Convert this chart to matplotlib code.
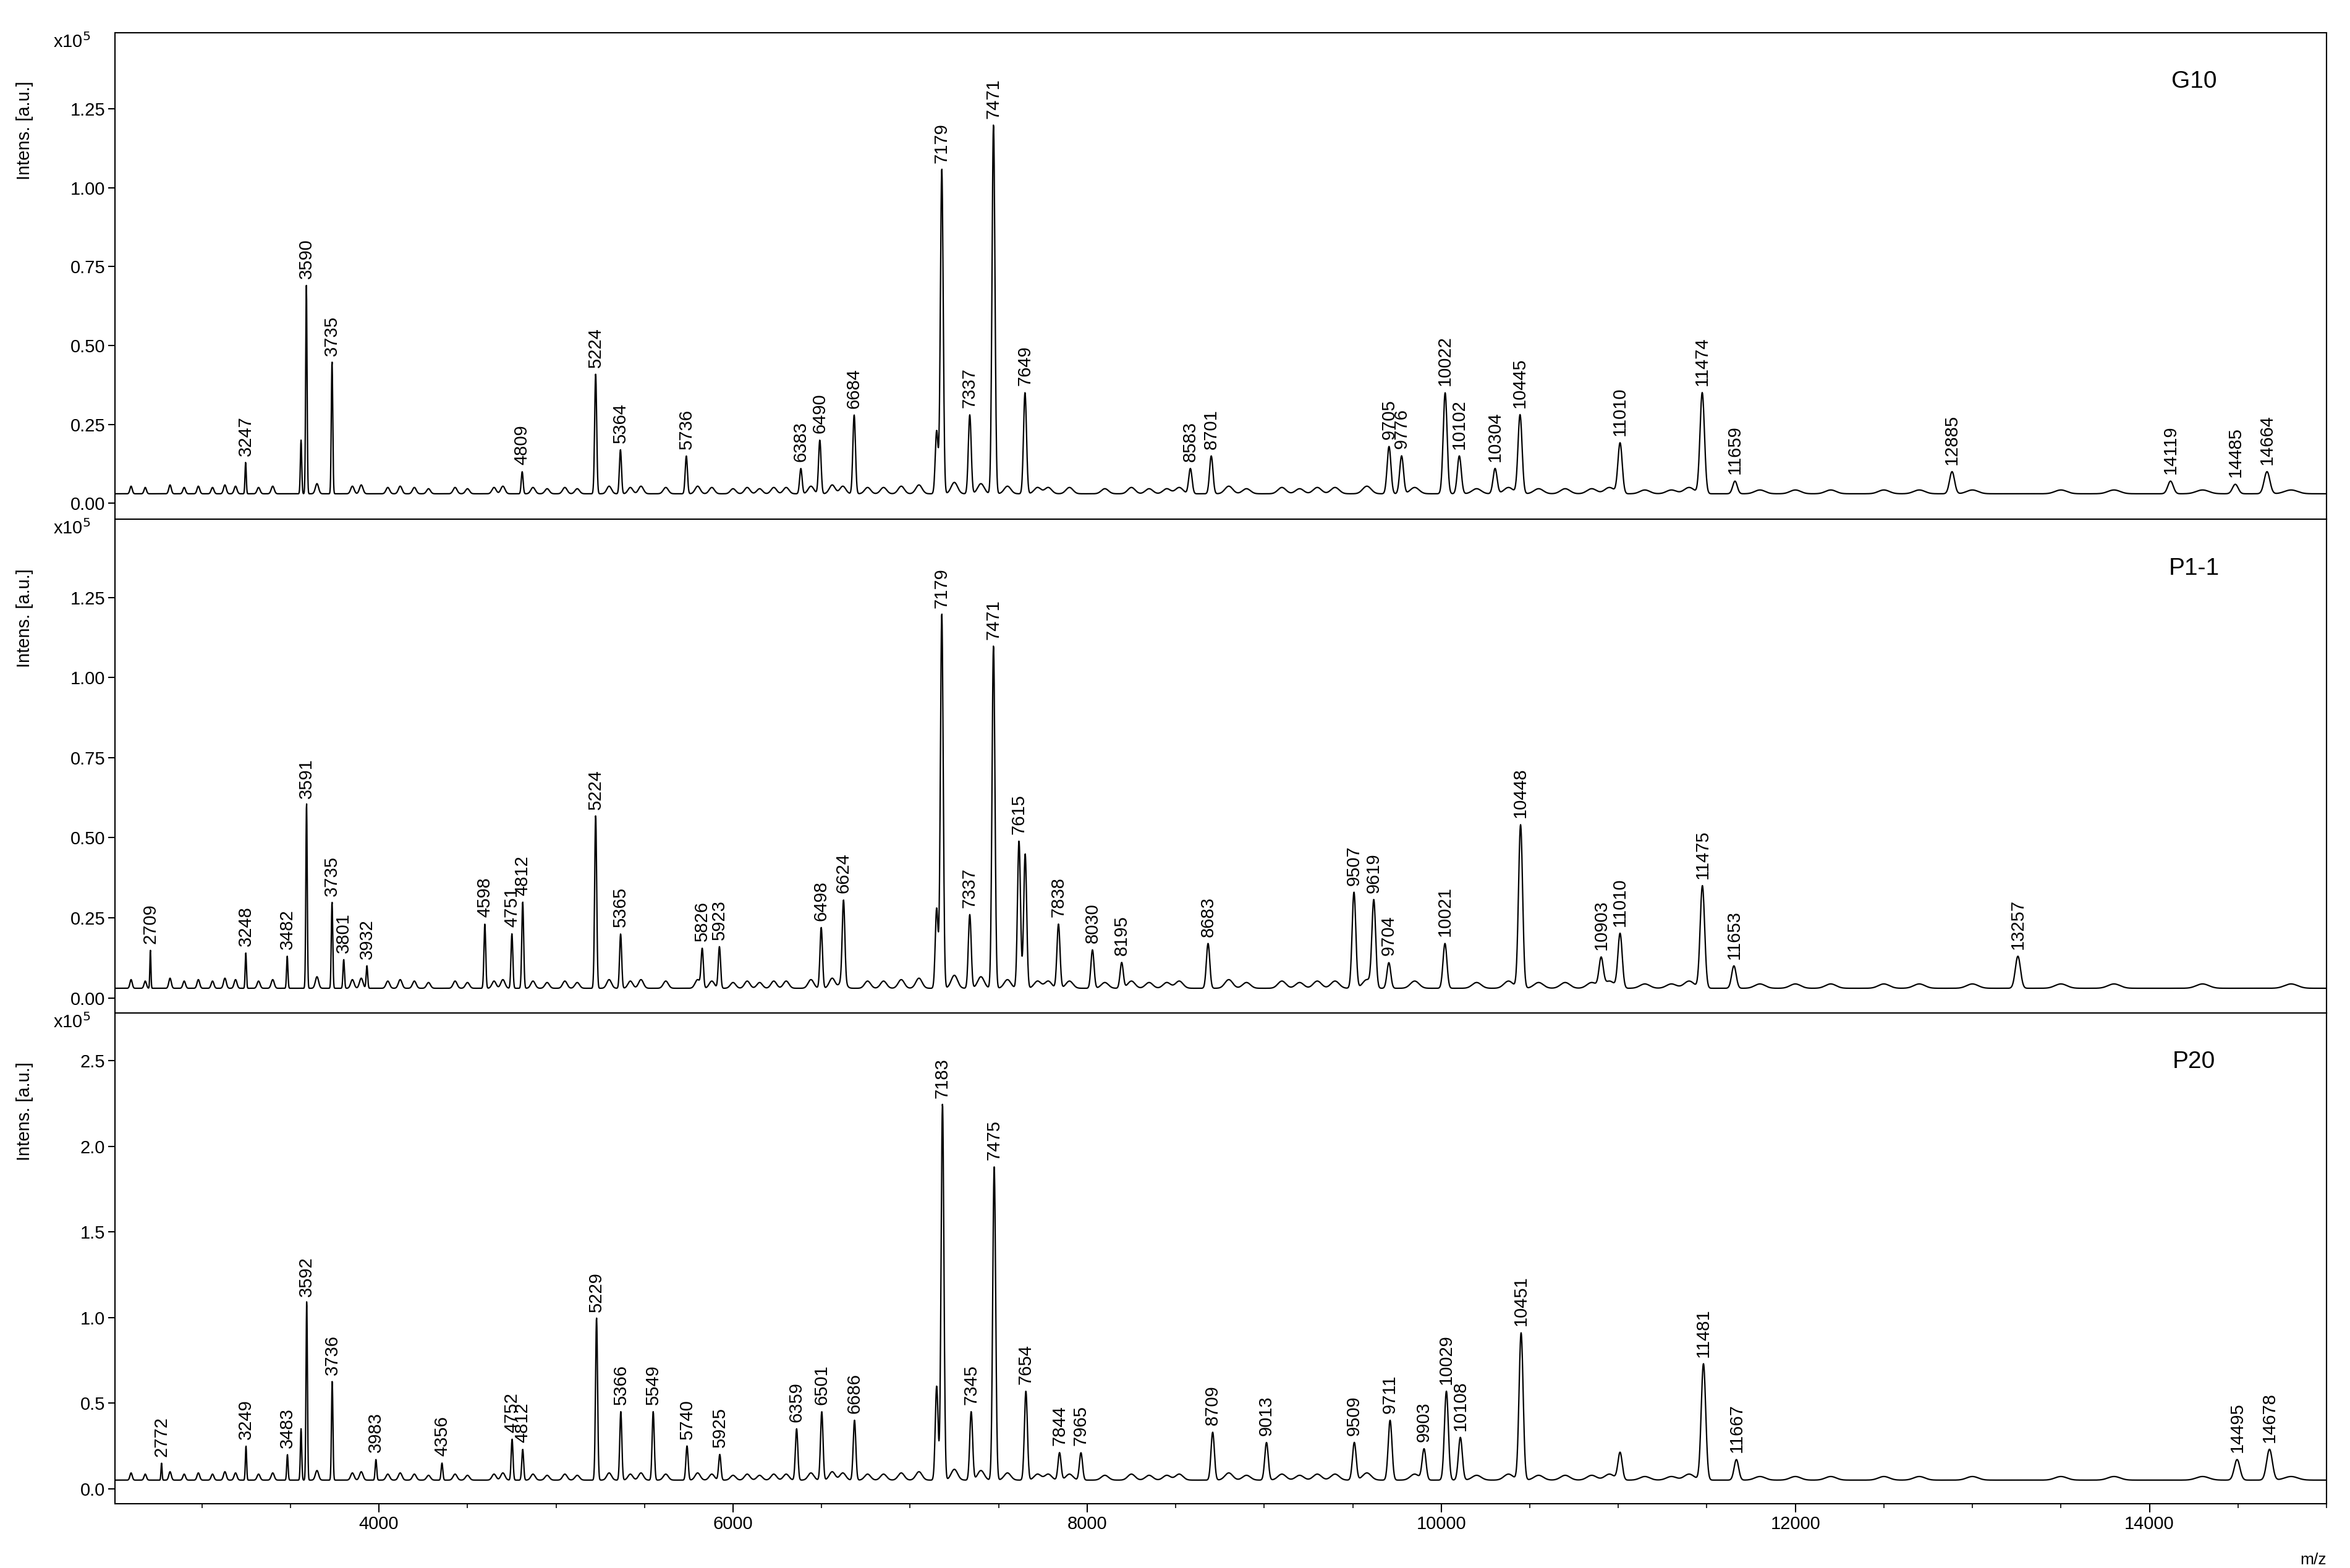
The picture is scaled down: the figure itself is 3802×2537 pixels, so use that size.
import numpy as np
import matplotlib
matplotlib.use("Agg")
import matplotlib.pyplot as plt
from matplotlib.ticker import FormatStrFormatter, MultipleLocator

plt.rcParams['font.family'] = ['Liberation Sans', 'DejaVu Sans']

# ---- data (intensities in units of 1e5 a.u.) ----
g10_mz = [3247, 3560, 3590, 3735, 4809, 5224, 5364, 5736, 6383, 6490, 6684, 7150, 7179, 7337, 7471, 7649,
          8583, 8701, 9705, 9776, 10022, 10102, 10304, 10445, 11010, 11474, 11659, 12885, 14119, 14485, 14664]
g10_int = [0.10, 0.17, 0.66, 0.42, 0.07, 0.38, 0.14, 0.12, 0.08, 0.17, 0.25, 0.2, 1.03, 0.25, 1.17, 0.32,
           0.08, 0.12, 0.15, 0.12, 0.32, 0.12, 0.08, 0.25, 0.16, 0.32, 0.04, 0.07, 0.04, 0.03, 0.07]
g10_lab = [3247, 3590, 3735, 4809, 5224, 5364, 5736, 6383, 6490, 6684, 7179, 7337, 7471, 7649,
           8583, 8701, 9705, 9776, 10022, 10102, 10304, 10445, 11010, 11474, 11659, 12885, 14119, 14485, 14664]

p11_mz = [2709, 3248, 3482, 3591, 3735, 3801, 3932, 4598, 4751, 4812, 5224, 5365, 5826, 5923, 6498, 6624,
          7150, 7179, 7337, 7471, 7615, 7650, 7838, 8030, 8195, 8683, 9507, 9619, 9704, 10021, 10448,
          10903, 11010, 11475, 11653, 13257]
p11_int = [0.12, 0.11, 0.10, 0.58, 0.27, 0.09, 0.07, 0.20, 0.17, 0.27, 0.54, 0.17, 0.12, 0.13, 0.19, 0.25,
           0.25, 1.17, 0.23, 1.07, 0.46, 0.42, 0.20, 0.12, 0.08, 0.14, 0.30, 0.27, 0.08, 0.14, 0.51,
           0.09, 0.17, 0.32, 0.07, 0.10]
p11_lab = [2709, 3248, 3482, 3591, 3735, 3801, 3932, 4598, 4751, 4812, 5224, 5365, 5826, 5923, 6498, 6624,
           7179, 7337, 7471, 7615, 7838, 8030, 8195, 8683, 9507, 9619, 9704, 10021, 10448,
           10903, 11010, 11475, 11653, 13257]

p20_mz = [2772, 3249, 3483, 3560, 3592, 3736, 3983, 4356, 4752, 4812, 5229, 5366, 5549, 5740, 5925, 6359, 6501,
          6686, 7150, 7183, 7345, 7475, 7654, 7844, 7965, 8709, 9013, 9509, 9711, 9903, 10029, 10108, 10451,
          11010, 11481, 11667, 14495, 14678]
p20_int = [0.10, 0.20, 0.15, 0.3, 1.05, 0.58, 0.12, 0.10, 0.24, 0.18, 0.95, 0.40, 0.40, 0.20, 0.15, 0.30, 0.40,
           0.35, 0.55, 2.20, 0.40, 1.83, 0.52, 0.16, 0.16, 0.28, 0.22, 0.22, 0.35, 0.18, 0.52, 0.25, 0.86,
           0.16, 0.68, 0.12, 0.12, 0.18]
p20_lab = [2772, 3249, 3483, 3592, 3736, 3983, 4356, 4752, 4812, 5229, 5366, 5549, 5740, 5925, 6359, 6501,
           6686, 7183, 7345, 7475, 7654, 7844, 7965, 8709, 9013, 9509, 9711, 9903, 10029, 10108, 10451,
           11481, 11667, 14495, 14678]

# shared minor peaks (relative heights), baseline clutter
minor_mz = [2600, 2680, 2820, 2900, 2980, 3060, 3130, 3190, 3320, 3400, 3650, 3850, 3900, 4050, 4120, 4200,
            4280, 4430, 4500, 4650, 4700, 4870, 4950, 5050, 5120, 5300, 5420, 5480, 5620, 5800, 5880, 6000,
            6080, 6150, 6230, 6300, 6440, 6560, 6620, 6760, 6850, 6950, 7050, 7250, 7400, 7550, 7720, 7780,
            7900, 8100, 8250, 8350, 8450, 8520, 8800, 8900, 9100, 9200, 9300, 9400, 9580, 9850, 10200, 10380,
            10550, 10700, 10850, 10950, 11150, 11300, 11400, 11800, 12000, 12200, 12500, 12700, 13000, 13500,
            13800, 14300, 14800]
minor_rel = [0.6, 0.5, 0.7, 0.5, 0.6, 0.5, 0.7, 0.6, 0.5, 0.6, 0.8, 0.6, 0.7, 0.5, 0.6, 0.5,
             0.4, 0.5, 0.4, 0.5, 0.6, 0.5, 0.4, 0.5, 0.4, 0.6, 0.5, 0.6, 0.5, 0.6, 0.5, 0.4,
             0.5, 0.4, 0.5, 0.5, 0.6, 0.7, 0.6, 0.5, 0.5, 0.6, 0.7, 0.9, 0.8, 0.6, 0.5, 0.5,
             0.5, 0.4, 0.5, 0.4, 0.4, 0.5, 0.6, 0.4, 0.5, 0.4, 0.5, 0.5, 0.6, 0.5, 0.4, 0.5,
             0.4, 0.4, 0.4, 0.5, 0.3, 0.3, 0.5, 0.3, 0.3, 0.3, 0.3, 0.3, 0.3, 0.3,
             0.3, 0.3, 0.3]

panels = [
    ("G10", g10_mz, g10_int, g10_lab, 0.03, 0.04, (-0.05, 1.49), 0.25, "%.2f"),
    ("P1-1", p11_mz, p11_int, p11_lab, 0.03, 0.045, (-0.047, 1.495), 0.25, "%.2f"),
    ("P20", p20_mz, p20_int, p20_lab, 0.05, 0.07, (-0.088, 2.78), 0.5, "%.1f"),
]

mz = np.arange(2510, 15000, 1.5)

def spectrum(pmz, pint, base, minor_scale):
    y = np.full_like(mz, base)
    for m, a in zip(pmz, pint):
        s = 0.0011 * m
        y += a * np.exp(-0.5 * ((mz - m) / s) ** 2)
    for m, r in zip(minor_mz, minor_rel):
        s = 0.0025 * m
        y += r * minor_scale * np.exp(-0.5 * ((mz - m) / s) ** 2)
    return y

fig = plt.figure(figsize=(38.02, 25.37), dpi=100)
bottoms = [0.669, 0.354, 0.041]
tops = [0.979, 0.669, 0.354]
for i, (name, pmz, pint, lab, base, msc, ylim, step, fmt) in enumerate(panels):
    ax = fig.add_axes([0.049, bottoms[i], 0.941, tops[i] - bottoms[i]])
    y = spectrum(pmz, pint, base, msc)
    ax.plot(mz, y, color='black', lw=1.6)
    ax.set_xlim(2510, 15000)
    ax.set_ylim(*ylim)
    ax.yaxis.set_major_locator(MultipleLocator(step))
    ax.yaxis.set_major_formatter(FormatStrFormatter(fmt))
    ax.tick_params(axis='y', labelsize=21, length=8, width=1.5)
    ax.set_ylabel("Intens. [a.u.]", fontsize=21, labelpad=10)
    ax.yaxis.set_label_coords(-0.037, 0.8)
    ax.text(-0.028, 1.0, r"x10$^5$", transform=ax.transAxes, fontsize=21, ha='left', va='top')
    ax.text(0.94, 0.9, name, transform=ax.transAxes, fontsize=28, ha='center', va='center')
    for m in lab:
        h = np.interp(m, mz, y)
        ax.annotate(str(m), (m, h), xytext=(0, 8), textcoords='offset points',
                    rotation=90, ha='center', va='bottom', fontsize=21)
    for sp in ax.spines.values():
        sp.set_linewidth(1.5)
    if i < 2:
        ax.set_xticks([])
    else:
        ax.set_xticks([4000, 6000, 8000, 10000, 12000, 14000])
        ax.xaxis.set_minor_locator(MultipleLocator(500))
        ax.tick_params(axis='x', labelsize=21, length=10, width=1.5, which='major')
        ax.tick_params(axis='x', length=5, width=1.2, which='minor')
        ax.text(1.0, -0.1, "m/z", transform=ax.transAxes, fontsize=19, ha='right', va='top')

fig.savefig("out.png", dpi=100)
